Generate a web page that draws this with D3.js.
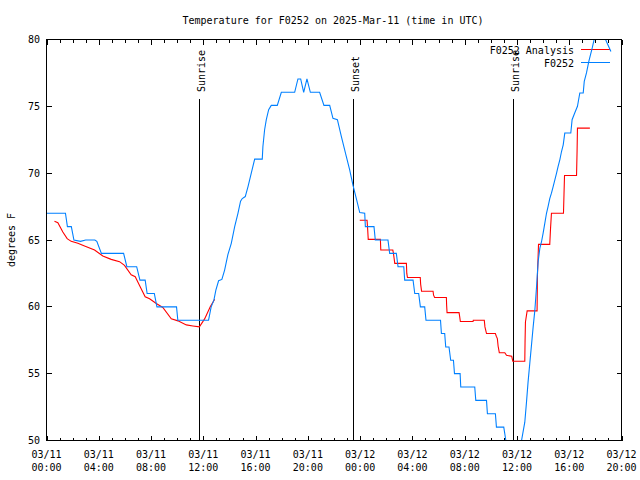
<!DOCTYPE html>
<html>
<head>
<meta charset="utf-8">
<script src="https://cdn.jsdelivr.net/npm/d3@7"></script>
<style>
  body { margin: 0; background: #fff; }
  svg { display: block; }
  text { font-family: "DejaVu Sans Mono", monospace; font-size: 10px; fill: #000; }
</style>
</head>
<body>
<svg id="chart" width="640" height="480"></svg>
<script>
// ---- data (hours after 2025-03-11 00:00 UTC) ----
const obsHours = [0.0, 1.45, 1.6, 1.9, 2.1, 2.6, 3.0, 3.7, 3.85, 4.2, 5.9, 6.15, 6.9, 7.15, 7.55, 7.7, 8.25, 8.45, 9.95, 10.05, 12.4,
  12.6, 12.81, 12.96, 13.17, 13.42, 13.63, 13.88, 14.14, 14.4, 14.65, 14.85, 14.98, 15.21, 15.42, 15.67, 15.93, 16.51, 16.56, 16.69, 16.82, 17.0, 17.2, 17.66, 17.97,
  18.99, 19.24, 19.45, 19.68, 19.93, 20.19, 20.9, 21.23, 21.67, 21.92, 22.26, 22.56, 22.94, 23.2, 23.45, 23.71, 23.97,
  24.35, 24.4, 25.06, 25.16, 26.13, 26.26, 26.77, 26.9, 27.34, 27.41, 28.05, 28.18, 28.48, 28.61, 28.94, 29.04, 30.15, 30.22, 30.47, 30.55, 30.8, 30.93, 31.14, 31.22, 31.65, 31.7, 32.77, 32.85, 33.67, 33.74, 34.35, 34.43, 34.99, 35.15, 35.4, 35.9, 36.35,
  36.6, 36.73, 36.85, 36.98, 37.11, 37.24, 37.37, 37.49, 37.62, 37.75, 37.88, 38.0, 38.13, 38.26, 38.38, 38.51, 38.64, 38.77, 38.9, 39.03, 39.15, 39.28, 39.41, 39.54, 39.66, 40.12, 40.22, 40.42, 40.63, 40.81, 41.07, 41.15, 41.32, 41.5, 41.76, 42.0, 42.35, 42.55, 43.19];
const obsTemps = [67, 67, 66, 66, 65, 64.9, 65, 65, 64.9, 64, 64, 63, 63, 62, 62, 61, 61, 60, 60, 59, 59,
  60, 60.5, 61.25, 61.95, 62.05, 62.75, 63.9, 64.75, 66, 67, 67.9, 68.1, 68.25, 69, 70, 71.05, 71.05, 72, 73.25, 74, 74.75, 75.07, 75.07, 76.05,
  76.05, 77.05, 77.05, 76.05, 77.05, 76.05, 76.05, 75.07, 75.07, 74.1, 74, 72.75, 71.25, 70.25, 69.1, 68.1, 67.05,
  67, 66, 66, 65, 65, 64, 64, 63, 63, 62, 62, 61, 61, 60, 60, 59, 59, 58, 58, 57, 57, 56, 56, 55, 55, 54, 54, 53, 53, 52, 52, 51, 51, 50, 49, 49, 50,
  51.37, 52.87, 54.37, 55.75, 57.12, 58.5, 59.75, 61.37, 63.37, 64.37, 64.87, 65.5, 66.25, 67, 67.5, 68.1, 68.5, 69, 69.5, 70, 70.5, 71, 71.62, 72.12, 73, 73, 74, 74.5, 75, 76, 76, 76.87, 77.5, 78.37, 79.37, 80.4, 80.8, 80.5, 79.1];

const anaHours = [0.61, 0.87, 1.25, 1.58, 1.89, 2.4, 2.91, 3.68, 4.31, 4.95, 5.59, 5.97, 6.48, 6.79, 7.12, 7.55, 7.89, 8.4, 8.9, 9.55, 10.06, 10.7, 11.2, 11.7, 12.1, 12.53, 12.87,
  18.0,
  23.97, 24.53, 24.58, 24.62, 25.55, 25.58, 26.5, 26.55, 26.65, 27.54, 27.57, 27.62, 28.6, 28.63, 28.7, 29.58, 29.62, 29.7, 30.6, 30.62, 30.65, 31.57, 31.62, 31.67, 32.64, 32.66, 33.5, 33.55, 33.67, 34.35, 34.42, 34.5, 34.56, 34.65, 35.07, 35.2, 35.6, 35.68, 36.6, 36.62, 36.65, 36.78, 37.54, 37.57, 37.65, 38.51, 38.57, 38.64, 39.56, 39.6, 39.64, 40.56, 40.6, 40.63, 41.58];
const anaTemps = [66.4, 66.3, 65.6, 65.1, 64.9, 64.75, 64.55, 64.25, 63.8, 63.55, 63.38, 63.1, 62.4, 62.25, 61.6, 60.75, 60.6, 60.25, 59.95, 59.1, 58.95, 58.65, 58.57, 58.5, 59.1, 60.0, 60.57,
  null,
  66.48, 66.48, 65.75, 65.05, 65.05, 64.25, 64.25, 64.0, 63.25, 63.25, 62.5, 62.2, 62.2, 61.7, 61.17, 61.17, 60.87, 60.7, 60.7, 60.1, 59.57, 59.57, 59.25, 58.9, 58.9, 59.0, 59.0, 58.5, 58.0, 58.0, 57.8, 57.62, 57.05, 56.57, 56.57, 56.37, 56.3, 55.93, 55.93, 57.4, 58.87, 59.7, 59.7, 62.4, 64.67, 64.67, 65.87, 67.0, 67.0, 68.43, 69.83, 69.83, 71.62, 73.37, 73.37];

const sunEvents = [
  { label: "Sunrise", hour: 11.66 },
  { label: "Sunset", hour: 23.45 },
  { label: "Sunrise", hour: 35.68 }
];
const yTicks = [50, 55, 60, 65, 70, 75, 80];
const seriesNames = ["F0252 Analysis", "F0252"];
const seriesColors = ["#ff0000", "#0080ff"];
const titleText = "Temperature for F0252 on 2025-Mar-11 (time in UTC)";
const yLabel = "degrees F";

// ---- layout ----
const pL = 46.5, pR = 621.5, pT = 39.5, pB = 440.5;
const t0 = Date.UTC(2025, 2, 11, 0);
const toDate = h => new Date(t0 + h * 3600000);

const x = d3.scaleUtc().domain([toDate(0), toDate(44)]).range([pL, pR]);
const y = d3.scaleLinear().domain([50, 80]).range([pB, pT]);

const svg = d3.select("#chart");
svg.append("rect").attr("width", 640).attr("height", 480).attr("fill", "#fff");

svg.append("defs").append("clipPath").attr("id", "plotclip")
  .append("rect").attr("x", pL).attr("y", pT).attr("width", pR - pL).attr("height", pB - pT);

// title
svg.append("text").attr("x", 333).attr("y", 24).attr("text-anchor", "middle").text(titleText);

// y label
svg.append("text").attr("transform", "translate(15,240) rotate(-90)").attr("text-anchor", "middle").text(yLabel);

const g = svg.append("g");

// x ticks
const majorTicks = x.ticks(d3.utcHour.every(4));
const minorTicks = x.ticks(d3.utcHour.every(1));
const tickG = g.append("g").attr("stroke", "#000").attr("stroke-width", 1).attr("shape-rendering", "crispEdges");
minorTicks.forEach(t => {
  const xp = Math.round(x(t)) + 0.5;
  const major = t.getUTCHours() % 4 === 0;
  const len = major ? 5 : 3;
  tickG.append("line").attr("x1", xp).attr("x2", xp).attr("y1", pB).attr("y2", pB - len);
  tickG.append("line").attr("x1", xp).attr("x2", xp).attr("y1", pT).attr("y2", pT + len);
});
yTicks.forEach(v => {
  const yp = y(v);
  tickG.append("line").attr("x1", pL).attr("x2", pL + 5).attr("y1", yp).attr("y2", yp);
  tickG.append("line").attr("x1", pR).attr("x2", pR - 5).attr("y1", yp).attr("y2", yp);
});

// x tick labels
const fmtD = d3.utcFormat("%m/%d"), fmtT = d3.utcFormat("%H:%M");
majorTicks.forEach(t => {
  const tx = g.append("text").attr("text-anchor", "middle");
  tx.append("tspan").attr("x", x(t)).attr("y", 457.5).text(fmtD(t));
  tx.append("tspan").attr("x", x(t)).attr("y", 471).text(fmtT(t));
});
// y tick labels
yTicks.forEach(v => {
  g.append("text").attr("x", 40).attr("y", y(v) + 3.5).attr("text-anchor", "end").text(v);
});

// sun lines
sunEvents.forEach(s => {
  const xp = Math.round(x(toDate(s.hour))) + 0.5;
  g.append("line").attr("x1", xp).attr("x2", xp).attr("y1", 99).attr("y2", pB)
    .attr("stroke", "#000").attr("stroke-width", 1).attr("shape-rendering", "crispEdges");
  g.append("text").attr("transform", `translate(${xp + 5},92) rotate(-90)`).attr("text-anchor", "start").text(s.label);
});

// series
const line = d3.line()
  .defined(d => d[1] !== null)
  .x(d => x(toDate(d[0])))
  .y(d => y(d[1]));

const ana = anaHours.map((h, i) => [h, anaTemps[i]]);
const obs = obsHours.map((h, i) => [h, obsTemps[i]]);

// key
const keyY = [49.5, 62.5];
[0, 1].forEach(i => {
  g.append("text").attr("x", 574).attr("y", keyY[i] + 4).attr("text-anchor", "end").text(seriesNames[i]);
});

const plots = [ana, obs];
[0, 1].forEach(i => {
  g.append("line").attr("x1", 581).attr("x2", 610).attr("y1", keyY[i]).attr("y2", keyY[i])
    .attr("stroke", seriesColors[i]).attr("stroke-width", 1);
  g.append("path").datum(plots[i]).attr("d", line)
    .attr("fill", "none").attr("stroke", seriesColors[i]).attr("stroke-width", 1.1)
    .attr("clip-path", "url(#plotclip)");
});

// frame
g.append("rect").attr("x", pL).attr("y", pT).attr("width", pR - pL).attr("height", pB - pT)
  .attr("fill", "none").attr("stroke", "#000").attr("stroke-width", 1).attr("shape-rendering", "crispEdges");
</script>
</body>
</html>
